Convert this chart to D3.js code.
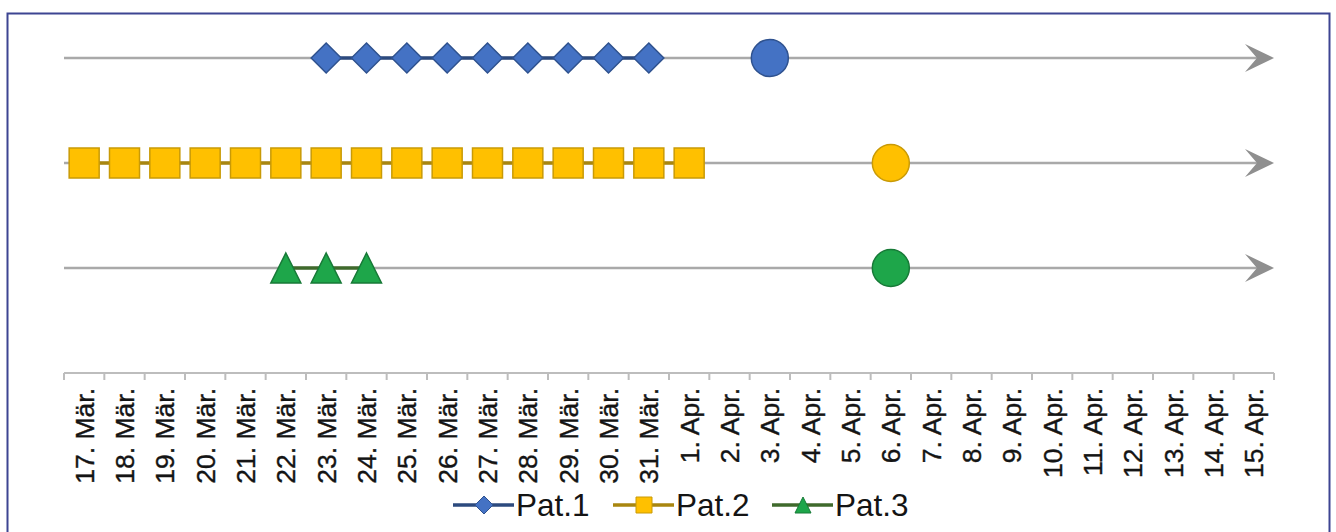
<!DOCTYPE html>
<html>
<head>
<meta charset="utf-8">
<script src="https://cdn.jsdelivr.net/npm/d3@7/dist/d3.min.js"></script>
<style>
  html, body { margin: 0; padding: 0; background: #ffffff; }
  svg { display: block; font-family: "Liberation Sans", Arial, sans-serif; }
</style>
</head>
<body>
<svg id="chart" width="1336" height="532"></svg>
<script>
// Day labels along the time axis
const days = [
  "17. Mär.", "18. Mär.", "19. Mär.", "20. Mär.", "21. Mär.", "22. Mär.",
  "23. Mär.", "24. Mär.", "25. Mär.", "26. Mär.", "27. Mär.", "28. Mär.",
  "29. Mär.", "30. Mär.", "31. Mär.", "1. Apr.", "2. Apr.", "3. Apr.",
  "4. Apr.", "5. Apr.", "6. Apr.", "7. Apr.", "8. Apr.", "9. Apr.",
  "10. Apr.", "11. Apr.", "12. Apr.", "13. Apr.", "14. Apr.", "15. Apr."
];

// Patients, their row on the chart and the legend names
const patients = ["Pat.1", "Pat.2", "Pat.3"];
const rows = [3, 2, 1];

// Days each patient shows a marker (consecutive run)
const pat1Days = ["23. Mär.", "24. Mär.", "25. Mär.", "26. Mär.", "27. Mär.", "28. Mär.", "29. Mär.", "30. Mär.", "31. Mär."];
const pat2Days = ["17. Mär.", "18. Mär.", "19. Mär.", "20. Mär.", "21. Mär.", "22. Mär.", "23. Mär.", "24. Mär.", "25. Mär.", "26. Mär.", "27. Mär.", "28. Mär.", "29. Mär.", "30. Mär.", "31. Mär.", "1. Apr."];
const pat3Days = ["22. Mär.", "23. Mär.", "24. Mär."];

// Single event day per patient (drawn as a circle)
const eventDays = ["3. Apr.", "6. Apr.", "6. Apr."];

const markerShapes = ["diamond", "square", "triangle"];
const fills   = ["#4472c4", "#ffc000", "#1ea64a"];
const strokes = ["#2f528f", "#c99a06", "#177a37"];
const linkColors = ["#2c4a7e", "#a8860f", "#3f6a2c"];

const svg = d3.select("#chart");

// Frame
svg.append("rect")
  .attr("x", 7.5).attr("y", 13.5)
  .attr("width", 1322).attr("height", 540)
  .attr("fill", "#ffffff")
  .attr("stroke", "#3d4592").attr("stroke-width", 2);

const x = d3.scaleBand().domain(days).range([64, 1274]).paddingInner(0).paddingOuter(0);
const cx = d => x(d) + x.bandwidth() / 2;
const y = d3.scaleLinear().domain([0, 3]).range([373, 58]);

// Marker path builders
function shapePath(shape, s) {
  const p = d3.path();
  const h = s / 2;
  if (shape === "diamond") {
    p.moveTo(0, -h); p.lineTo(h, 0); p.lineTo(0, h); p.lineTo(-h, 0); p.closePath();
  } else if (shape === "square") {
    p.rect(-h, -h, s, s);
  } else {
    p.moveTo(0, -h); p.lineTo(h, h); p.lineTo(-h, h); p.closePath();
  }
  return p.toString();
}

// Timeline arrows
const xStart = x.range()[0];
const xEnd = x.range()[1];
rows.forEach(r => {
  const yy = y(r);
  svg.append("line")
    .attr("x1", xStart).attr("x2", xEnd - 14)
    .attr("y1", yy).attr("y2", yy)
    .attr("stroke", "#a9a9a9").attr("stroke-width", 2.5);
  const a = d3.path();
  a.moveTo(xEnd, yy);
  a.lineTo(xEnd - 29, yy - 14);
  a.lineTo(xEnd - 17, yy);
  a.lineTo(xEnd - 29, yy + 14);
  a.closePath();
  svg.append("path").attr("d", a.toString()).attr("fill", "#8f8f8f");
});

// Time axis: baseline, boundary ticks and rotated labels
const axisY = y(0);
svg.append("line")
  .attr("x1", xStart).attr("x2", xEnd)
  .attr("y1", axisY).attr("y2", axisY)
  .attr("stroke", "#bdbdbd").attr("stroke-width", 2);
const tickPos = days.map(d => x(d)).concat([xEnd]);
svg.append("g").selectAll("line").data(tickPos).join("line")
  .attr("x1", d => d).attr("x2", d => d)
  .attr("y1", axisY).attr("y2", axisY + 7)
  .attr("stroke", "#bdbdbd").attr("stroke-width", 2);
svg.append("g").selectAll("text").data(days).join("text")
  .attr("transform", d => `translate(${cx(d)},388) rotate(-90)`)
  .attr("text-anchor", "end")
  .attr("dy", "0.36em")
  .attr("font-size", 26.5)
  .attr("fill", "#141414")
  .attr("stroke", "#141414").attr("stroke-width", 0.4)
  .text(d => d);

// Series: connecting line, markers, and event circle
const seriesDays = [pat1Days, pat2Days, pat3Days];
seriesDays.forEach((ds, i) => {
  const yy = y(rows[i]);
  const line = d3.line().x(d => cx(d)).y(() => yy);
  svg.append("path")
    .attr("d", line(ds))
    .attr("fill", "none")
    .attr("stroke", linkColors[i]).attr("stroke-width", 3.5);
  svg.append("g").selectAll("path").data(ds).join("path")
    .attr("transform", d => `translate(${cx(d)},${yy})`)
    .attr("d", shapePath(markerShapes[i], 30))
    .attr("fill", fills[i])
    .attr("stroke", strokes[i]).attr("stroke-width", 1.5);
  svg.append("circle")
    .attr("cx", cx(eventDays[i])).attr("cy", yy).attr("r", 18.5)
    .attr("fill", fills[i])
    .attr("stroke", strokes[i]).attr("stroke-width", 1.5);
});

// Legend
const legendStarts = [453, 613, 772];
patients.forEach((name, i) => {
  const g = svg.append("g").attr("transform", `translate(${legendStarts[i]},505)`);
  g.append("line").attr("x1", 0).attr("x2", 61).attr("y1", 0).attr("y2", 0)
    .attr("stroke", linkColors[i]).attr("stroke-width", 3.5);
  g.append("path").attr("transform", "translate(31,0)")
    .attr("d", shapePath(markerShapes[i], markerShapes[i] === "diamond" ? 18 : 16))
    .attr("fill", fills[i]).attr("stroke", strokes[i]).attr("stroke-width", 1);
  g.append("text").attr("x", 63).attr("y", 10.5)
    .attr("font-size", 31.5).attr("fill", "#141414")
    .text(name);
});
</script>
</body>
</html>
